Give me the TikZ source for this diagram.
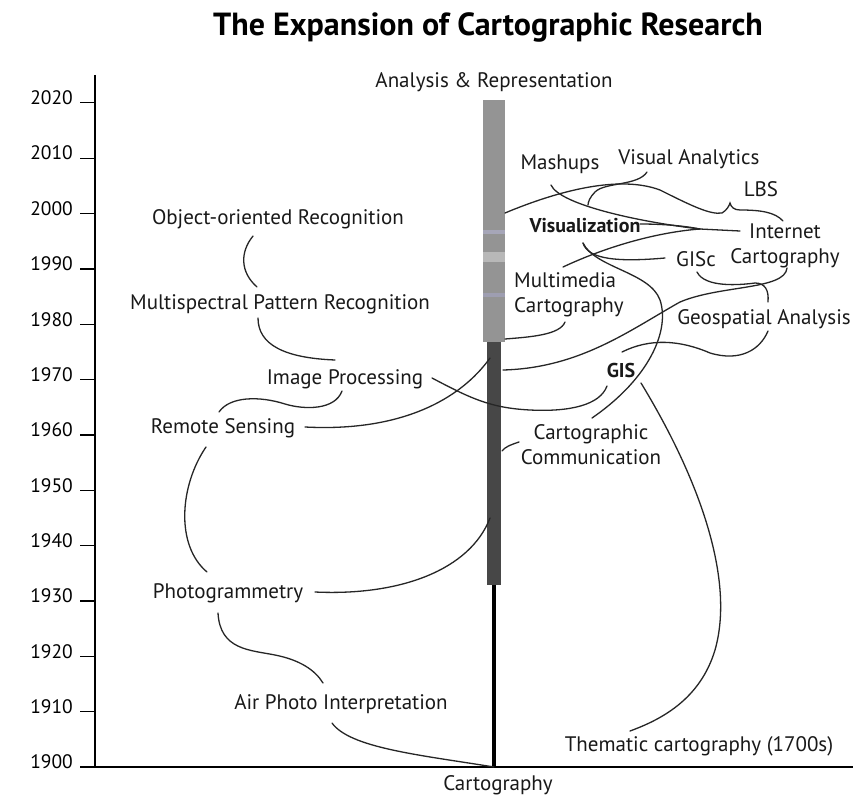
\documentclass[tikz,border=0pt]{standalone}
\usepackage{fontspec}
\setmainfont{PT Sans}
\begin{document}
\begin{tikzpicture}[x=1pt,y=-1pt,
  lbl/.style={inner sep=0pt,font=\fontsize{21}{25}\selectfont,text=black!90},
  bl/.style={lbl,font=\fontsize{20}{24}\selectfont\bfseries},
  yr/.style={inner sep=0pt,anchor=east,font=\fontsize{19.5}{22}\selectfont},
  curve/.style={line width=1.3pt,black!85,line cap=round},
  axis/.style={line width=2.4pt,black}]
\useasboundingbox (0,0) rectangle (853,797);
\fill[white] (0,0) rectangle (853,797);
% title
\node[inner sep=0pt,font=\fontsize{32}{36}\selectfont\bfseries] (title) at (488,27) {The Expansion of Cartographic Research};
% axes
\coordinate (ytop) at (95,75);
\coordinate (orig) at (95,767);
\coordinate (xend) at (853,767);
\draw[axis] (ytop) -- (orig) -- (xend);
\foreach \i in {0,...,12}{
  \pgfmathsetmacro{\ty}{767-\i*55.35}
  \pgfmathtruncatemacro{\yy}{1900+10*\i}
  \draw[line width=1.3pt] (80,\ty) -- (94,\ty);
  \node[yr] (yl\i) at (73,\ty-5) {\yy};
}
% central bar
\fill[black!42] (483,100) rectangle (505,342);
\fill[blue!20!black!35] (483,230) rectangle (505,234);
\fill[black!28] (483,252) rectangle (505,262);
\fill[blue!20!black!38] (483,293) rectangle (505,297);
\fill[black!72] (487,342) rectangle (501,585);
\coordinate (barbot) at (494,585);
\coordinate (barbase) at (494,767);
\draw[line width=4pt] (barbot) -- (barbase);
% labels
\node[lbl] (ar) at (494,82) {Analysis \& Representation};
\node[lbl] (carto) at (498,785) {Cartography};
\node[lbl] (mash) at (560,164) {Mashups};
\node[lbl] (va) at (689,159) {Visual Analytics};
\node[lbl] (lbs) at (761,189) {LBS};
\node[bl] (vis) at (585,226) {Visualization};
\node[lbl,align=center] (ic) at (785,246) {Internet\\Cartography};
\node[lbl] (gisc) at (696,259) {GISc};
\node[lbl,align=left,anchor=west] (mm) at (514,295) {Multimedia\\Cartography};
\node[lbl] (geo) at (764,319) {Geospatial Analysis};
\node[bl] (gis) at (621,370) {GIS};
\node[lbl,align=center] (cc) at (591,445) {Cartographic\\Communication};
\node[lbl] (them) at (699,746) {Thematic cartography (1700s)};
\node[lbl] (oor) at (278,219) {Object-oriented Recognition};
\node[lbl] (mpr) at (280,304) {Multispectral Pattern Recognition};
\node[lbl] (ip) at (345,379) {Image Processing};
\node[lbl] (rs) at (223,428) {Remote Sensing};
\node[lbl] (ph) at (228,593) {Photogrammetry};
\node[lbl] (api) at (341,704) {Air Photo Interpretation};
% connector ends
\coordinate (bRS) at (490,358);
\coordinate (bPH) at (490,518);
\coordinate (bCC) at (502,451);
\coordinate (bMM) at (505,339);
\coordinate (bIC) at (503,370);
\coordinate (bLBS) at (505,213);
\coordinate (conv) at (700,229);
% left side curves
\draw[curve] (253,236) .. controls (240,252) and (240,272) .. (257,287);
\draw[curve] (258,318) .. controls (258,345) and (285,358) .. (335,360);
\draw[curve] (342,391) .. controls (335,410) and (305,410) .. (285,404) .. controls (260,396) and (230,396) .. (219,412);
\draw[curve] (305,427) .. controls (400,432) and (460,400) .. (bRS);
\draw[curve] (432,378) .. controls (470,398) and (490,408) .. (530,410) .. controls (570,412) and (600,405) .. (607,386);
\draw[curve] (315,592) .. controls (400,596) and (470,570) .. (bPH);
\draw[curve] (206,447) .. controls (180,485) and (175,545) .. (207,572);
\draw[curve] (218,613) .. controls (220,650) and (250,650) .. (275,655) .. controls (300,660) and (315,670) .. (323,683);
\draw[curve] (332,723) .. controls (350,748) and (420,755) .. (barbase);
% right side curves
\draw[curve] (519,442) .. controls (510,445) and (505,447) .. (bCC);
\draw[curve] (592,418) .. controls (650,378) and (670,330) .. (660,300) .. controls (650,272) and (595,268) .. (583,243);
\draw[curve] (583,243) .. controls (588,260) and (620,262) .. (665,258);
\draw[curve] (641,383) .. controls (700,480) and (735,580) .. (715,650) .. controls (700,700) and (660,720) .. (630,731);
\draw[curve] (565,322) .. controls (560,335) and (530,337) .. (bMM);
\draw[curve] (bIC) .. controls (580,368) and (630,330) .. (680,302) .. controls (720,285) and (785,290) .. (787,268);
\draw[curve] (622,352) .. controls (650,338) and (680,340) .. (710,353) .. controls (740,362) and (760,350) .. (768,331);
\draw[curve] (697,272) .. controls (705,288) and (740,285) .. (755,283) .. controls (765,283) and (769,290) .. (768,302);
\draw[curve] (551,185) .. controls (560,205) and (640,222) .. (conv) -- (740,231);
\draw[curve] (640,224) .. controls (670,224) and (690,227) .. (conv);
\draw[curve] (563,267) .. controls (610,245) and (660,232) .. (conv);
\draw[curve] (bLBS) .. controls (560,190) and (620,175) .. (660,190) .. controls (690,205) and (710,215) .. (722,213) .. controls (727,210) and (729,206) .. (730,203) .. controls (731,207) and (734,210) .. (740,210) .. controls (760,210) and (775,212) .. (783,221);
\draw[curve] (647,172) .. controls (638,186) and (605,182) .. (595,192) .. controls (590,197) and (588,202) .. (588,205);
\end{tikzpicture}
\end{document}
